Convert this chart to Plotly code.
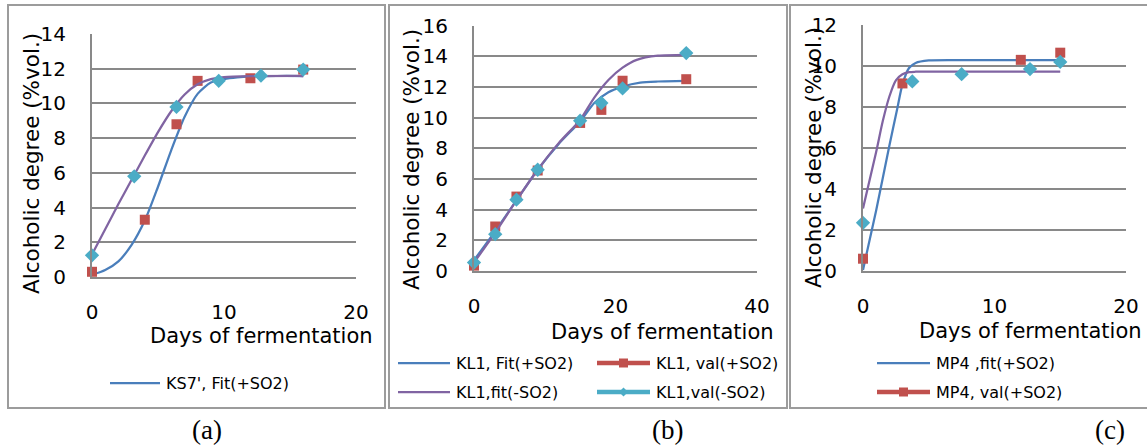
import plotly.graph_objects as go

W, H = 1147, 447

# ---------------- data ----------------
# Panel (a): KS7'
a_fit_plus_days = [0, 1, 2, 3, 4, 5, 6, 7, 8, 9, 10, 11, 12, 14, 16]
a_fit_plus = [0.12, 0.4, 0.9, 1.85, 3.25, 5.2, 7.3, 9.2, 10.55, 11.2, 11.4, 11.5, 11.55, 11.58, 11.58]
a_val_plus_days = [0, 4, 6.4, 8, 12, 16]
a_val_plus = [0.3, 3.3, 8.8, 11.3, 11.45, 11.95]
a_fit_minus_days = [0, 1, 2, 3, 4, 5, 6, 7, 8, 9, 10, 12, 16]
a_fit_minus = [1.3, 2.75, 4.2, 5.6, 7.0, 8.35, 9.55, 10.5, 11.1, 11.4, 11.52, 11.57, 11.58]
a_val_minus_days = [0, 3.2, 6.4, 9.6, 12.8, 16]
a_val_minus = [1.25, 5.8, 9.8, 11.3, 11.6, 11.95]

# Panel (b): KL1
b_fit_plus_days = [0, 3, 6, 9, 12, 15, 17, 19, 21, 23.5, 26, 30]
b_fit_plus = [0.7, 2.6, 4.6, 6.6, 8.3, 9.75, 10.95, 11.65, 12.02, 12.28, 12.35, 12.39]
b_val_plus_days = [0, 3, 6, 9, 15, 18, 21, 30]
b_val_plus = [0.35, 2.9, 4.85, 6.55, 9.65, 10.5, 12.4, 12.5]
b_fit_minus_days = [0, 3, 6, 9, 12, 15, 17, 19, 21, 23, 26, 30]
b_fit_minus = [0.55, 2.5, 4.6, 6.6, 8.35, 9.85, 11.3, 12.45, 13.25, 13.76, 14.03, 14.09]
b_val_minus_days = [0, 3, 6, 9, 15, 18, 21, 30]
b_val_minus = [0.55, 2.4, 4.65, 6.6, 9.8, 10.95, 11.9, 14.2]

# Panel (c): MP4
c_fit_plus_days = [0, 1, 2, 2.6, 3, 3.5, 4, 5, 7, 15]
c_fit_plus = [0.05, 2.95, 6.1, 7.9, 9.1, 9.9, 10.15, 10.27, 10.29, 10.29]
c_val_plus_days = [0, 3, 12, 15]
c_val_plus = [0.6, 9.15, 10.3, 10.65]
c_fit_minus_days = [0, 1, 1.5, 2, 2.5, 3, 3.5, 4, 15]
c_fit_minus = [3.05, 5.8, 7.3, 8.5, 9.3, 9.6, 9.7, 9.72, 9.72]
c_val_minus_days = [0, 3.75, 7.5, 12.7, 15]
c_val_minus = [2.35, 9.25, 9.6, 9.85, 10.2]

x_title = "Days of fermentation"
y_title = "Alcoholic degree (%vol.)"
legend_a = ["KS7', Fit(+SO2)"]
legend_b = ["KL1, Fit(+SO2)", "KL1, val(+SO2)", "KL1,fit(-SO2)", "KL1,val(-SO2)"]
legend_c = ["MP4 ,fit(+SO2)", "MP4, val(+SO2)"]
panel_labels = ["(a)", "(b)", "(c)"]

# ---------------- styles ----------------
BLUE = "#4A7EBB"
RED = "#C0504D"
PURPLE = "#8064A2"
CYAN = "#4BACC6"
GRID = "#898989"
BORDER = "#9C9C9C"
FONT = "DejaVu Sans"


def px(x):
    return x / W


def py(y):
    return 1 - y / H


fig = go.Figure()

panels = [
    dict(fp=(a_fit_plus_days, a_fit_plus), vp=(a_val_plus_days, a_val_plus),
         fm=(a_fit_minus_days, a_fit_minus), vm=(a_val_minus_days, a_val_minus),
         xr=[0, 20], xd=(92, 356), xt=[0, 10, 20], yr=[0, 14], yd=(277, 34), yt=list(range(0, 15, 2))),
    dict(fp=(b_fit_plus_days, b_fit_plus), vp=(b_val_plus_days, b_val_plus),
         fm=(b_fit_minus_days, b_fit_minus), vm=(b_val_minus_days, b_val_minus),
         xr=[0, 40], xd=(474, 757), xt=[0, 20, 40], yr=[0, 16], yd=(271, 25.5), yt=list(range(0, 17, 2))),
    dict(fp=(c_fit_plus_days, c_fit_plus), vp=(c_val_plus_days, c_val_plus),
         fm=(c_fit_minus_days, c_fit_minus), vm=(c_val_minus_days, c_val_minus),
         xr=[0, 20], xd=(863, 1126), xt=[0, 10, 20], yr=[0, 12], yd=(271, 25), yt=list(range(0, 13, 2))),
]

layout_axes = {}
for i, p in enumerate(panels):
    sfx = "" if i == 0 else str(i + 1)
    xa, ya = "x" + sfx, "y" + sfx
    fig.add_trace(go.Scatter(x=p["fp"][0], y=p["fp"][1], mode="lines", xaxis=xa, yaxis=ya,
                             line=dict(color=BLUE, width=2.25, shape="spline", smoothing=0.7),
                             showlegend=False, cliponaxis=False))
    fig.add_trace(go.Scatter(x=p["vp"][0], y=p["vp"][1], mode="markers", xaxis=xa, yaxis=ya,
                             marker=dict(symbol="square", size=10, color=RED),
                             showlegend=False, cliponaxis=False))
    fig.add_trace(go.Scatter(x=p["fm"][0], y=p["fm"][1], mode="lines", xaxis=xa, yaxis=ya,
                             line=dict(color=PURPLE, width=2.25, shape="spline", smoothing=0.7),
                             showlegend=False, cliponaxis=False))
    fig.add_trace(go.Scatter(x=p["vm"][0], y=p["vm"][1], mode="markers", xaxis=xa, yaxis=ya,
                             marker=dict(symbol="diamond", size=11, color=CYAN),
                             showlegend=False, cliponaxis=False))
    layout_axes["xaxis" + sfx] = dict(
        domain=[px(p["xd"][0]), px(p["xd"][1])], range=p["xr"], tickvals=p["xt"],
        showgrid=False, zeroline=False, showline=True, linecolor=GRID, linewidth=2,
        ticks="", ticklabelstandoff=16, anchor=ya, automargin=False,
        tickfont=dict(family=FONT, size=20, color="black"))
    layout_axes["yaxis" + sfx] = dict(
        domain=[py(p["yd"][0]), py(p["yd"][1])], range=p["yr"], tickvals=p["yt"],
        showgrid=True, gridcolor=GRID, gridwidth=2, zeroline=False,
        showline=True, linecolor=GRID, linewidth=2,
        ticks="", ticklabelstandoff=20, anchor=xa, automargin=False,
        tickfont=dict(family=FONT, size=20, color="black"))

fig.update_layout(**layout_axes)

shapes = []
annotations = []

# panel borders
for (x0, x1) in [(8, 385), (389, 787), (790, 1152)]:
    shapes.append(dict(type="rect", xref="paper", yref="paper",
                       x0=px(x0), x1=px(x1), y0=py(408), y1=py(5),
                       line=dict(color=BORDER, width=2), fillcolor="rgba(0,0,0,0)", layer="below"))

# axis titles
for (xc, yc) in [(31, 164), (411, 160), (813, 158)]:
    annotations.append(dict(text=y_title, xref="paper", yref="paper", x=px(xc), y=py(yc),
                            textangle=-90, showarrow=False, xanchor="center", yanchor="middle",
                            font=dict(family=FONT, size=21.5, color="black")))
for (xc, yc) in [(261, 336), (662, 332), (1030, 331)]:
    annotations.append(dict(text=x_title, xref="paper", yref="paper", x=px(xc), y=py(yc),
                            showarrow=False, xanchor="center", yanchor="middle",
                            font=dict(family=FONT, size=21, color="black")))

# panel labels
for lab, xc in zip(panel_labels, [207, 667, 1110]):
    annotations.append(dict(text=lab, xref="paper", yref="paper", x=px(xc), y=py(430),
                            showarrow=False, xanchor="center", yanchor="middle",
                            font=dict(family="Liberation Serif", size=27, color="black")))


def legend_item(x0, x1, y, color, label, marker=None):
    thick = marker is not None
    shapes.append(dict(type="line", xref="paper", yref="paper", x0=px(x0), x1=px(x1),
                       y0=py(y), y1=py(y), line=dict(color=color, width=4.5 if thick else 2.25)))
    xm = (x0 + x1) / 2
    if marker == "square":
        shapes.append(dict(type="rect", xref="paper", yref="paper",
                           x0=px(xm - 4.5), x1=px(xm + 4.5), y0=py(y + 4.5), y1=py(y - 4.5),
                           line=dict(width=0), fillcolor=color))
    elif marker == "diamond":
        path = "M {} {} L {} {} L {} {} L {} {} Z".format(
            px(xm), py(y - 4.5), px(xm + 4.5), py(y), px(xm), py(y + 4.5), px(xm - 4.5), py(y))
        shapes.append(dict(type="path", xref="paper", yref="paper", path=path,
                           line=dict(width=0), fillcolor=color))
    annotations.append(dict(text=label, xref="paper", yref="paper", x=px(x1 + 4), y=py(y),
                            showarrow=False, xanchor="left", yanchor="middle",
                            font=dict(family=FONT, size=16, color="black")))


legend_item(110, 160, 383, BLUE, legend_a[0])
legend_item(398, 450, 363, BLUE, legend_b[0])
legend_item(597, 650, 363, RED, legend_b[1], "square")
legend_item(398, 450, 392, PURPLE, legend_b[2])
legend_item(597, 650, 392, CYAN, legend_b[3], "diamond")
legend_item(877, 930, 363, BLUE, legend_c[0])
legend_item(877, 930, 392, RED, legend_c[1], "square")

fig.update_layout(width=W, height=H, margin=dict(l=0, r=0, t=0, b=0, autoexpand=False),
                  paper_bgcolor="white", plot_bgcolor="white",
                  shapes=shapes, annotations=annotations, showlegend=False,
                  font=dict(family=FONT))

fig.write_html("out.html", config={"displayModeBar": False},
               post_script="document.body.style.margin='0px';document.body.style.overflow='hidden';")
